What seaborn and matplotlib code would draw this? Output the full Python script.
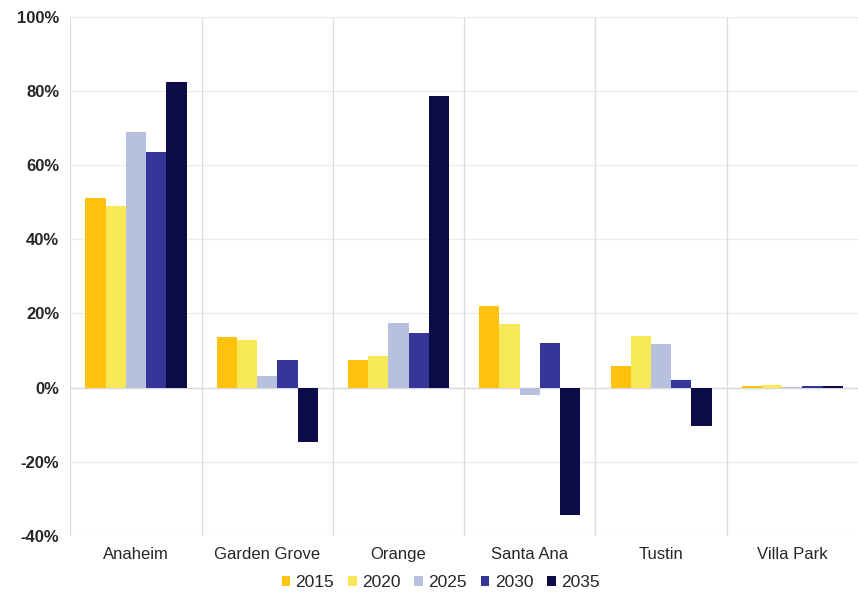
import numpy as np
import pandas as pd
import matplotlib.pyplot as plt
import seaborn as sns
from matplotlib.ticker import FuncFormatter

cities = ["Anaheim", "Garden Grove", "Orange", "Santa Ana", "Tustin", "Villa Park"]
years = ["2015", "2020", "2025", "2030", "2035"]

# percent change by city, one list per year
v2015 = [51.0, 13.7, 7.5, 22.0, 5.9, 0.3]
v2020 = [49.0, 12.7, 8.4, 17.0, 14.0, 0.6]
v2025 = [69.0, 3.2, 17.5, -1.9, 11.6, 0.1]
v2030 = [63.5, 7.5, 14.8, 12.1, 1.9, 0.3]
v2035 = [82.5, -14.6, 78.5, -34.5, -10.5, 0.4]

colors = ["#FFC20E", "#F6E857", "#B7C1DF", "#35359A", "#0B0B47"]

rows = []
for yr, vals in zip(years, [v2015, v2020, v2025, v2030, v2035]):
    for c, v in zip(cities, vals):
        rows.append({"city": c, "year": yr, "value": v})
df = pd.DataFrame(rows)

sns.set_style("white")
plt.rcParams['font.family'] = ['Liberation Sans', 'DejaVu Sans']

fig, ax = plt.subplots(figsize=(8.58, 5.98), dpi=100)
fig.subplots_adjust(left=0.082, right=1.0, top=0.972, bottom=0.104)

sns.barplot(data=df, x="city", y="value", hue="year", palette=colors,
            width=0.77, gap=0, saturation=1, errorbar=None, ax=ax, zorder=3,
            linewidth=0, edgecolor="none")

ax.set_ylim(-40, 100)
ax.set_yticks(np.arange(-40, 101, 20))
ax.yaxis.set_major_formatter(FuncFormatter(lambda v, p: f"{int(v)}%"))
ax.set_xlim(-0.5, 5.5)
ax.set_xlabel("")
ax.set_ylabel("")

for y in np.arange(-40, 101, 20):
    ax.axhline(y, color="#ececec", lw=0.8, zorder=0)
ax.axhline(0, color="#d9d9d9", lw=1.0, zorder=1)
for x in np.arange(-0.5, 5.6, 1):
    ax.axvline(x, color="#dcdcdc", lw=0.9, zorder=0)

for s in ax.spines.values():
    s.set_visible(False)

ax.tick_params(axis="y", length=0, labelsize=12, pad=8)
ax.tick_params(axis="x", length=0, labelsize=12, pad=8)
for t in ax.get_yticklabels():
    t.set_fontweight("bold")
    t.set_color("#262626")
for t in ax.get_xticklabels():
    t.set_color("#262626")

handles, labels = ax.get_legend_handles_labels()
ax.legend(handles, labels, loc="lower center", bbox_to_anchor=(0.47, -0.135),
          ncol=5, frameon=False, fontsize=12.5, handlelength=0.5, handleheight=0.5,
          handletextpad=0.3, columnspacing=0.8)

plt.savefig("out.png", dpi=100)
